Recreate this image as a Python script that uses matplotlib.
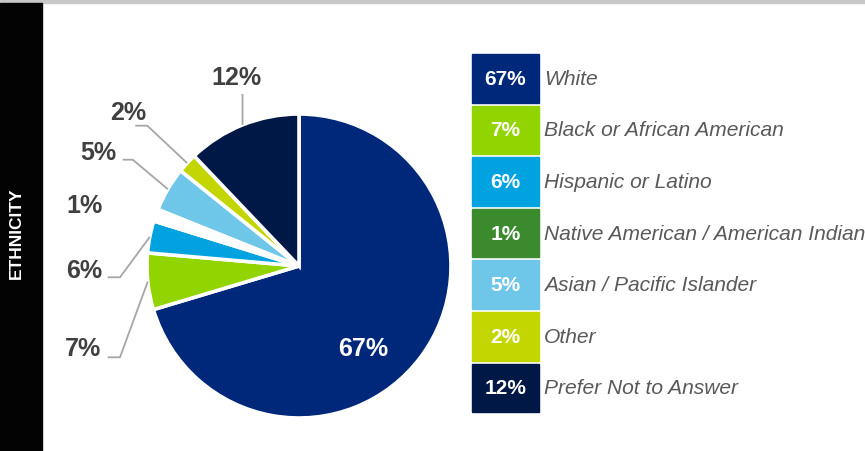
import numpy as np
import matplotlib
matplotlib.use("Agg")
import matplotlib.pyplot as plt
from matplotlib.patches import Rectangle

plt.rcParams['font.family'] = ['Liberation Sans', 'DejaVu Sans']

# Data
categories = ["White", "Black or African American", "Hispanic or Latino",
              "Native American / American Indian", "Asian / Pacific Islander",
              "Other", "Prefer Not to Answer"]
pct_labels = ["67%", "7%", "6%", "1%", "5%", "2%", "12%"]
# wedge sizes as drawn in the picture (measured angles, in %)
wedge_sizes = [70.3, 6.0, 3.4, 1.3, 4.7, 2.1, 12.1]
colors = ["#00287A", "#92D400", "#00A3E0", "#3C8A2E", "#6EC6E8", "#C4D600", "#001845"]
pie_colors = ["#00287A", "#92D400", "#00A3E0", "#FFFFFF", "#6EC6E8", "#C4D600", "#001845"]

W, H = 865, 452

def fy(y):
    # pixel row (from top) -> data y
    return H - y

fig = plt.figure(figsize=(W / 100, H / 100), dpi=100)
ax = fig.add_axes([0, 0, 1, 1])

# pie
cx, cy, r = 299, 267, 152
wedges, _ = ax.pie(wedge_sizes, colors=pie_colors, startangle=90, counterclock=False,
                   center=(cx, fy(cy)), radius=r,
                   wedgeprops=dict(edgecolor="white", linewidth=2.6))
ax.set_xlim(0, W)
ax.set_ylim(0, H)
ax.set_aspect("equal")
ax.axis("off")

# header band and side bar
ax.add_patch(Rectangle((0, fy(4)), W, 4, color="#C8C8C8", zorder=5))
ax.add_patch(Rectangle((0, 0), 42, fy(4), color="#030303", zorder=5))
ax.text(16, fy(233), "ETHNICITY", rotation=90, color="white", fontsize=12.5,
        fontweight="bold", ha="center", va="center", zorder=6)

# label inside the big wedge
ax.text(363, fy(349), pct_labels[0], color="white", fontsize=18, fontweight="bold",
        ha="center", va="center")

# outside labels: (index, text centre, leader start, elbow)
outside = [
    (6, (236, 78), (242.5, 95), (242.5, 95)),
    (5, (128.5, 112.5), (135.3, 126.7), (147.3, 126.7)),
    (4, (98.7, 152.5), (122.7, 160.7), (132.7, 160.7)),
    (3, (84, 206.5), None, None),
    (2, (84, 271), (107.7, 278.3), (120, 278.3)),
    (1, (83.5, 349), (107.7, 358.3), (120, 358.3)),
]
for i, (tx, ty), start, elbow in outside:
    ax.text(tx, fy(ty), pct_labels[i], color="#404040", fontsize=18, fontweight="bold",
            ha="center", va="center")
    if start is None:
        continue
    w = wedges[i]
    mid = np.deg2rad((w.theta1 + w.theta2) / 2)
    ex, ey = cx + r * np.cos(mid), fy(cy) + r * np.sin(mid)
    ax.plot([start[0], elbow[0], ex], [fy(start[1]), fy(elbow[1]), ey],
            color="#A6A6A6", linewidth=1.3, solid_capstyle="butt")

# legend boxes
top, pitch, bh = 55, 51.6, 48.5
for i, (cat, lab, col) in enumerate(zip(categories, pct_labels, colors)):
    y0 = top + i * pitch
    ax.add_patch(Rectangle((472, fy(y0 + bh)), 67, bh, color=col))
    ax.text(505.5, fy(y0 + bh / 2), lab, color="white", fontsize=15, fontweight="bold",
            ha="center", va="center")
    ax.text(544, fy(y0 + bh / 2), cat, color="#595959", fontsize=15.1, fontstyle="italic",
            ha="left", va="center")

fig.savefig("out.png", dpi=100)
